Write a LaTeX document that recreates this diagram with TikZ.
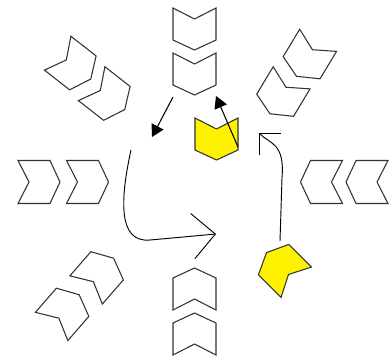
\documentclass[tikz,border=0pt]{standalone}
\usepackage{tikz}
\usetikzlibrary{arrows.meta}

\begin{document}
\begin{tikzpicture}[
    x=0.75pt, y=-0.75pt,
    outline/.style={draw=black!80, line width=0.8pt, line join=miter},
    chev/.pic={\draw[outline, pic actions] (-21,21.5) -- (11,21.5) -- (21,0) -- (11,-21.5) -- (-21,-21.5) -- (-10,0) -- cycle;},
    picked/.style={fill=yellow},
    pointer/.style={-{Triangle[length=9pt,width=10pt]}, line width=0.8pt},
    sweep/.style={-{Straight Barb[length=17pt,width=34pt]}, line width=0.7pt},
    turn/.style={-{Straight Barb[length=11.5pt,width=23pt]}, line width=0.7pt}
]
\useasboundingbox (0,0) rectangle (392,358);

% Chevron positions
\coordinate (top1) at (194.5,29);
\coordinate (top2) at (194.5,74);
\coordinate (bot1) at (194.5,289);
\coordinate (bot2) at (194.5,334);
\coordinate (left1) at (39,182);
\coordinate (left2) at (87.5,182);
\coordinate (right1) at (321.5,182);
\coordinate (right2) at (367,182);
\coordinate (tl1) at (74.2,66.1);
\coordinate (tl2) at (108.2,96.6);
\coordinate (tr1) at (307.3,58.3);
\coordinate (tr2) at (280.8,95.8);
\coordinate (bl1) at (65.4,310.6);
\coordinate (bl2) at (99.9,274.1);
\coordinate (br1) at (281.4,267.4);
\coordinate (mid) at (216.5,139);

% Chevrons
\pic[rotate=-90] at (top1) {chev};
\pic[rotate=-90] at (top2) {chev};
\pic[rotate=90] at (bot1) {chev};
\pic[rotate=90] at (bot2) {chev};
\pic at (left1) {chev};
\pic at (left2) {chev};
\pic[rotate=180] at (right1) {chev};
\pic[rotate=180] at (right2) {chev};
\pic[rotate=-38] at (tl1) {chev};
\pic[rotate=-38] at (tl2) {chev};
\pic[rotate=-121] at (tr1) {chev};
\pic[rotate=-121] at (tr2) {chev};
\pic[rotate=49] at (bl1) {chev};
\pic[rotate=49] at (bl2) {chev};
\pic[rotate=135, picked] at (br1) {chev};
\pic[rotate=-90, picked] at (mid) {chev};

% Arrow ends
\coordinate (p1s) at (173,97);
\coordinate (p1e) at (152,137);
\coordinate (p2s) at (238,147);
\coordinate (p2e) at (216,96);
\coordinate (c1s) at (131,150);
\coordinate (c1e) at (216,234);
\coordinate (c2s) at (280,241);
\coordinate (c2e) at (259,133);

% Arrows
\draw[pointer] (p1s) -- (p1e);
\draw[pointer] (p2s) -- (p2e);
\draw[sweep] (c1s) .. controls (120,200) and (118,243) .. (150,240) -- (c1e);
\draw[turn] (c2s) -- (282,178) .. controls (285,143) and (270,144) .. (c2e);

\end{tikzpicture}
\end{document}
